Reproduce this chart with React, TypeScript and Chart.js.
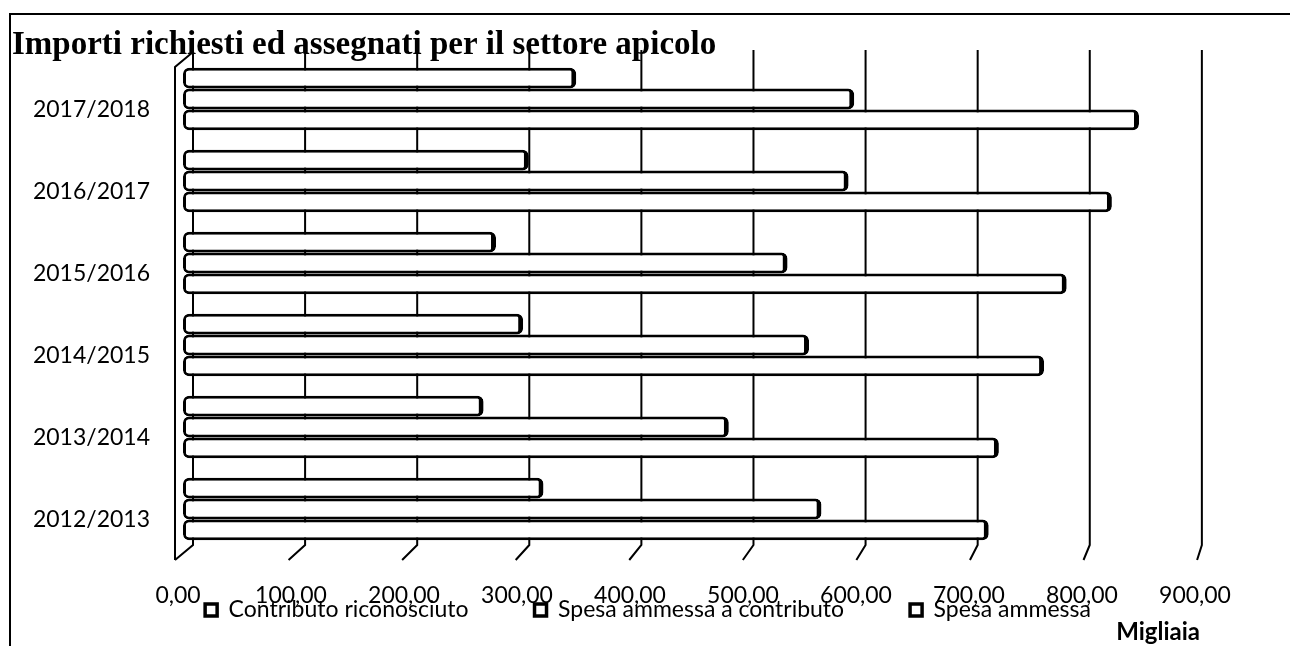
import React, { useEffect, useRef } from 'react';
import { Chart, registerables } from 'chart.js';

Chart.register(...registerables);

// ---- data ----
const categories = ['2017/2018', '2016/2017', '2015/2016', '2014/2015', '2013/2014', '2012/2013'];
const contributoRiconosciuto = [348, 306, 277, 301, 266, 319];
const spesaAmmessaAContributo = [594, 589, 535, 554, 483, 565];
const spesaAmmessa = [846, 822, 782, 762, 722, 713];
const seriesLabels = ['Contributo riconosciuto', 'Spesa ammessa a contributo', 'Spesa ammessa'];
const axisMin = 0;
const axisMax = 900;
const axisStep = 100;
const chartTitle = 'Importi richiesti ed assegnati per il settore apicolo';
const unitTitle = 'Migliaia';

// ---- styling constants ----
const SANS = 'Lato, "Open Sans", "DejaVu Sans", sans-serif';
const SERIF = '"Liberation Serif", "Times New Roman", serif';
const FONT_SIZE = 23;
const LEGEND_PAD = 66;
const LEGEND_TEXT_BELOW_AREA = 60;
const LEGEND_SHIFT_X = 42;

const formatTick = (v: number) => v.toFixed(2).replace('.', ',');

// 3D-looking walls and gridlines drawn from the x scale
const frame3d = {
  id: 'frame3d',
  beforeDatasetsDraw(chart: any) {
    const { ctx, chartArea, scales } = chart;
    const x = scales.x;
    const { left, top, bottom } = chartArea;
    const backTop = top - 8;
    const backBottom = bottom - 5;
    const frontBottom = bottom + 10;
    ctx.save();
    ctx.strokeStyle = '#000';
    ctx.lineWidth = 2;
    ctx.lineJoin = 'miter';
    x.ticks.forEach((t: any) => {
      const p = x.getPixelForValue(t.value);
      const bx = left + 10 + (p - left) * 0.992;
      const fx = left - 8 + (p - left) * 1.005;
      ctx.beginPath();
      ctx.moveTo(bx, backTop);
      ctx.lineTo(bx, backBottom);
      ctx.lineTo(fx, frontBottom);
      ctx.stroke();
    });
    // left side wall
    ctx.beginPath();
    ctx.moveTo(left + 10, top - 6);
    ctx.lineTo(left - 8, top + 9);
    ctx.lineTo(left - 8, frontBottom);
    ctx.stroke();
    ctx.restore();
  },
};

// legend placed overlapping the tick labels area, like the original
const legendPlace = {
  id: 'legendPlace',
  afterInit(chart: any) {
    const lg = chart.legend;
    if (!lg || lg.__patched) return;
    const fit = lg.fit;
    lg.fit = function (this: any) {
      fit.call(this);
      this.height = 0;
    };
    lg.__patched = true;
  },
  afterLayout(chart: any) {
    const lg = chart.legend;
    if (!lg) return;
    const top = chart.chartArea.bottom + LEGEND_TEXT_BELOW_AREA - LEGEND_PAD - FONT_SIZE / 2;
    lg.top = top;
    lg.bottom = top + LEGEND_PAD * 2 + FONT_SIZE + 10;
    lg.height = lg.bottom - lg.top;
    lg.left += LEGEND_SHIFT_X;
    lg.right += LEGEND_SHIFT_X;
    if (lg.adjustHitBoxes) lg.adjustHitBoxes();
  },
};

const barStyle = {
  backgroundColor: '#ffffff',
  borderColor: '#000000',
  borderWidth: { top: 3, right: 5, bottom: 3, left: 3 },
  borderRadius: 6,
  borderSkipped: false as const,
  categoryPercentage: 0.765,
  barPercentage: 1.0,
};

export default function App() {
  const ref = useRef<HTMLCanvasElement>(null);

  useEffect(() => {
    const canvas = ref.current;
    if (!canvas) return;
    const chart = new Chart(canvas, {
      type: 'bar',
      data: {
        labels: categories,
        datasets: [
          { label: seriesLabels[0], data: contributoRiconosciuto, ...barStyle },
          { label: seriesLabels[1], data: spesaAmmessaAContributo, ...barStyle },
          { label: seriesLabels[2], data: spesaAmmessa, ...barStyle },
        ],
      },
      options: {
        indexAxis: 'y',
        animation: false,
        responsive: false,
        devicePixelRatio: 1,
        layout: { padding: { top: 29, left: 12, right: 90, bottom: 0 } },
        scales: {
          x: {
            min: axisMin,
            max: axisMax,
            ticks: {
              stepSize: axisStep,
              callback: (v: any) => formatTick(Number(v)),
              font: { family: SANS, size: FONT_SIZE },
              color: '#000',
              padding: 32,
              labelOffset: -5,
              maxRotation: 0,
              autoSkip: false,
            },
            grid: { display: false, drawTicks: false },
            border: { display: false },
            title: {
              display: true,
              text: unitTitle,
              align: 'end',
              color: '#000',
              font: { family: SANS, size: 24, weight: 'bold' },
              padding: { top: 0, bottom: -1 },
            },
            afterFit: (s: any) => {
              s.height = 96;
            },
          },
          y: {
            ticks: {
              font: { family: SANS, size: FONT_SIZE },
              color: '#000',
              padding: 33,
              labelOffset: 11,
            },
            grid: { display: false, drawTicks: false },
            border: { display: false },
            afterFit: (s: any) => {
              s.width = 171;
            },
          },
        },
        plugins: {
          title: {
            display: true,
            text: chartTitle,
            align: 'start',
            color: '#000',
            font: { family: SERIF, size: 33, weight: 'bold', lineHeight: 1 },
            padding: { top: 0, bottom: -4 },
          },
          legend: {
            position: 'bottom',
            labels: {
              boxWidth: 12,
              boxHeight: 12,
              color: '#000',
              font: { family: SANS, size: FONT_SIZE },
              padding: LEGEND_PAD,
            },
          },
          tooltip: { enabled: false },
        },
      } as any,
      plugins: [frame3d, legendPlace],
    });
    return () => chart.destroy();
  }, []);

  return (
    <div style={{ position: 'absolute', left: 0, top: 0, width: 1290, height: 646, background: '#fff', overflow: 'hidden' }}>
      <div
        style={{
          position: 'absolute',
          left: 9,
          top: 13,
          width: 1281,
          height: 633,
          borderTop: '2px solid #000',
          borderLeft: '2px solid #000',
          boxSizing: 'border-box',
        }}
      />
      <canvas ref={ref} width={1290} height={646} style={{ position: 'absolute', left: 0, top: 0, width: 1290, height: 646 }} />
    </div>
  );
}
